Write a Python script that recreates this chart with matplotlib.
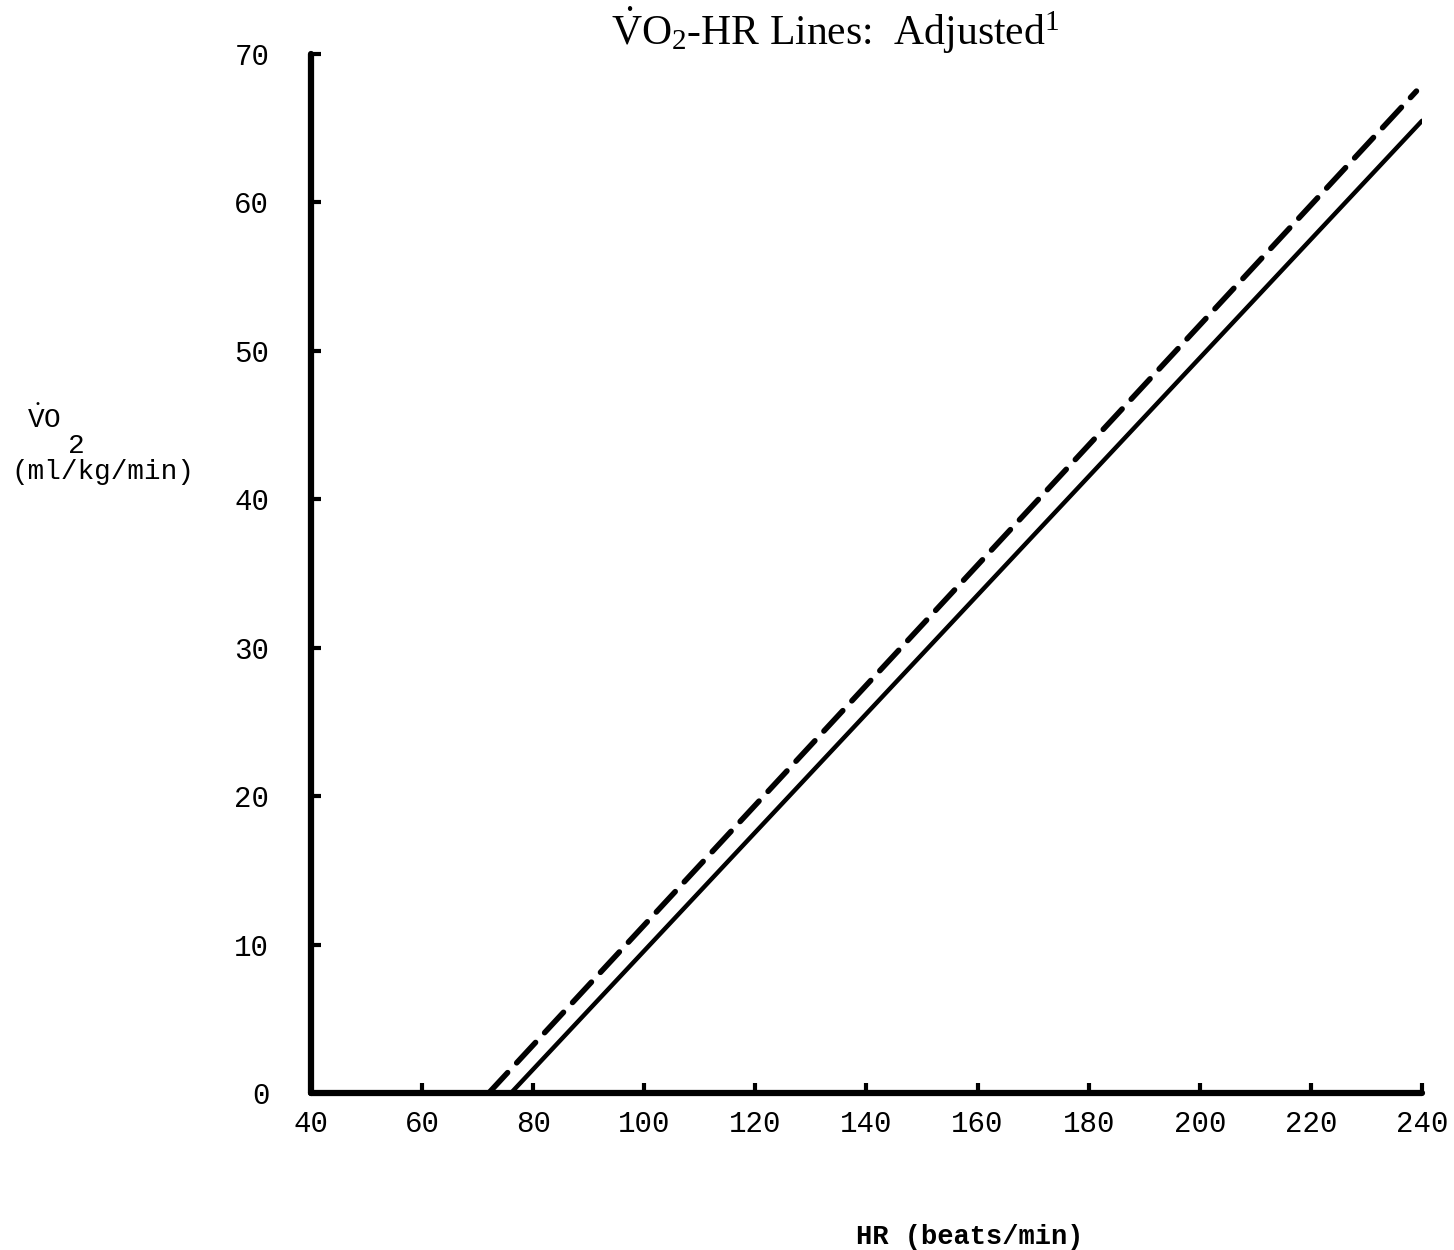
import matplotlib
matplotlib.use("Agg")
import matplotlib.pyplot as plt

# Data
hr_solid = [76, 240]
vo2_solid = [0, 65.5]
hr_dashed = [72, 239]
vo2_dashed = [0, 67.5]
x_ticks = [40, 60, 80, 100, 120, 140, 160, 180, 200, 220, 240]
y_ticks = [0, 10, 20, 30, 40, 50, 60, 70]

plt.rcParams['mathtext.fontset'] = 'custom'
plt.rcParams['mathtext.rm'] = 'Liberation Serif'
plt.rcParams['mathtext.it'] = 'Liberation Serif:italic'
plt.rcParams['mathtext.tt'] = 'Liberation Mono'

fig = plt.figure(figsize=(14.54, 12.5), dpi=100)
ax = fig.add_axes([311/1454, 1 - 1093/1250, (1422-311)/1454, (1093-54)/1250])

ax.plot(hr_solid, vo2_solid, color='black', lw=3.2, solid_capstyle='round')
ax.plot(hr_dashed, vo2_dashed, color='black', lw=4.0, dashes=(5, 2.4), dash_capstyle='round')

ax.set_xlim(40, 240)
ax.set_ylim(0, 70)
for s in ['top', 'right']:
    ax.spines[s].set_visible(False)
for s in ['left', 'bottom']:
    ax.spines[s].set_linewidth(4.5)
    ax.spines[s].set_capstyle('round')

ax.set_xticks(x_ticks)
ax.set_yticks(y_ticks)
ax.set_xticklabels([str(v) for v in x_ticks], fontfamily='Liberation Mono', fontsize=21)
ax.set_yticklabels([str(v) for v in y_ticks], fontfamily='Liberation Mono', fontsize=21)
ax.tick_params(axis='x', direction='in', length=7, width=3, pad=12)
ax.tick_params(axis='y', direction='in', length=7, width=3, pad=30)

fig.text(835/1454, 1 - 30/1250, r"$\dot{\mathrm{V}}\mathrm{O}_2$-HR Lines:  Adjusted$^1$",
         ha='center', va='center', fontsize=30, family='Liberation Serif')

fig.text(27/1454, 1 - 420/1250, r"$\dot{\mathtt{V}}\mathtt{O}$", fontsize=20, ha='left', va='center')
fig.text(68/1454, 1 - 446/1250, "2", fontfamily='Liberation Mono', fontsize=20, ha='left', va='center')
fig.text(103/1454, 1 - 472/1250, "(ml/kg/min)", fontfamily='Liberation Mono', fontsize=20, ha='center', va='center')

fig.text(970/1454, 1 - 1237/1250, "HR (beats/min)", fontfamily='Liberation Mono', fontsize=19.5,
         fontweight='bold', ha='center', va='center')

fig.savefig("out.png", dpi=100, facecolor='white')
